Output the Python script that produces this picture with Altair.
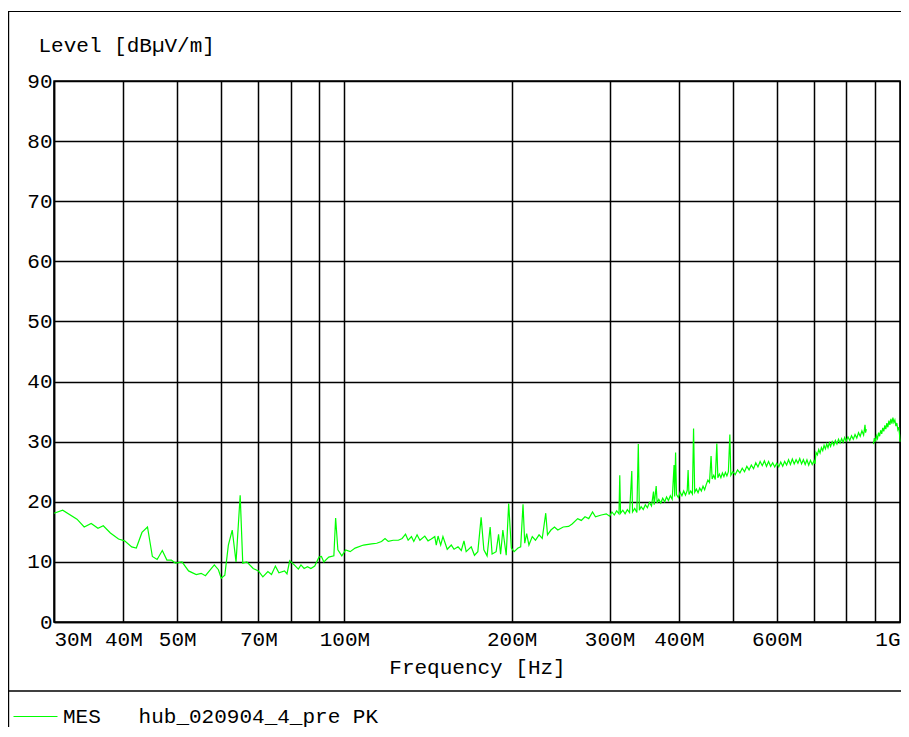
import altair as alt
import pandas as pd

FONT = "Liberation Mono"
FS = 21
SERIES = "MES\u00a0\u00a0\u00a0hub_020904_4_pre\u00a0PK"

# 30 MHz - 100 MHz
f1 = [30.0, 31.1, 33.0, 34.0, 35.0, 36.0, 36.8, 37.9, 39.2, 40.2,
      41.4, 42.2, 43.2, 44.2, 45.1, 46.0, 47.0, 47.9, 48.8, 49.6,
      51.0, 52.4, 54.1, 55.2, 56.2, 58.3, 59.3, 60.0, 60.9, 61.8,
      62.8, 63.8, 64.9, 65.6, 66.7, 68.5, 70.0, 71.3, 72.8, 73.9,
      75.1, 76.2, 78.0, 78.8, 79.7, 81.2, 82.6, 83.5, 84.6, 85.8,
      87.0, 88.4, 90.0, 90.9, 91.8, 93.7, 95.7, 96.4, 97.3, 98.9]
l1 = [18.1, 18.6, 17.1, 15.8, 16.4, 15.6, 16.0, 14.8, 13.8, 13.5,
      12.5, 12.3, 14.9, 15.8, 10.9, 10.4, 11.9, 10.3, 10.3, 9.8,
      10.0, 8.5, 7.9, 8.1, 7.7, 9.5, 8.7, 7.3, 7.8, 12.8,
      15.3, 10.0, 21.1, 9.8, 10.0, 8.9, 8.5, 7.5, 8.4, 7.9,
      9.3, 8.2, 8.5, 8.0, 10.2, 9.5, 8.8, 9.5, 8.9, 9.2,
      8.9, 9.3, 10.8, 10.9, 10.0, 10.8, 11.0, 17.3, 12.0, 11.0]

# 100 MHz - 300 MHz
f2 = [100.5, 102.4, 104.5, 108.2, 111.9, 114.3, 116.6, 118.3, 119.9, 122.4,
      125.0, 127.0, 128.8, 130.2, 132.0, 133.3, 135.1, 136.7, 139.5, 141.4,
      143.3, 145.4, 146.3, 147.4, 149.0, 150.4, 153.1, 155.7, 157.5, 160.1,
      162.3, 164.1, 165.6, 169.1, 171.4, 173.8, 176.2, 178.2, 180.6, 182.9,
      184.4, 187.5, 189.4, 191.0, 192.8, 195.5, 197.5, 199.7, 202.0, 205.3,
      207.6, 209.6, 211.1, 212.8, 214.8, 217.8, 220.7, 224.0, 227.0, 230.3,
      232.0, 235.3, 238.8, 242.1, 247.6, 253.2, 256.9, 262.9, 266.9, 271.0,
      275.2, 279.6, 283.0, 290.0, 296.0]
l2 = [12.0, 11.7, 12.3, 12.8, 13.0, 13.1, 13.4, 13.9, 13.4, 13.6,
      13.6, 13.9, 14.6, 13.6, 14.2, 13.4, 14.5, 13.6, 14.3, 13.5,
      13.8, 14.2, 12.8, 14.3, 12.8, 14.2, 12.1, 12.8, 12.1, 12.5,
      11.9, 13.5, 11.7, 12.5, 11.1, 11.7, 17.4, 12.0, 11.0, 15.8,
      11.3, 11.7, 14.6, 11.3, 15.3, 11.1, 19.7, 12.3, 11.7, 12.3,
      12.5, 19.6, 13.1, 14.7, 12.8, 14.2, 13.6, 14.5, 13.9, 18.1,
      14.5, 15.3, 15.8, 15.3, 15.8, 15.9, 16.3, 17.2, 16.9, 17.5,
      17.2, 18.3, 17.5, 17.8, 18.0]

# 300 MHz - 870 MHz
f3 = [300, 303, 306, 309, 312, 313, 314, 317, 320, 323,
      326, 329, 330, 333, 336, 338, 339.5, 342, 345, 348,
      351, 354, 357, 360, 361, 364, 365.5, 368, 371, 374,
      377, 380, 383, 386, 389, 392, 393, 394.5, 396, 399,
      402, 405, 408, 411, 414, 415.5, 417, 420, 423, 425,
      427, 430, 433, 436, 439, 442, 445, 448, 451, 454,
      457, 459, 462, 465, 468, 470, 473, 476, 479, 482,
      485, 488, 491, 494, 496, 500, 505, 510, 515, 520,
      525, 530, 535, 540, 545, 550, 555, 560, 565, 570,
      575, 580, 585, 590, 595, 600, 605, 610, 615, 620,
      625, 630, 635, 640, 645, 650, 655, 660, 665, 670,
      675, 680, 685, 690, 695, 700, 703, 706, 710, 714,
      718, 722, 726, 730, 734, 738, 742, 746, 750, 755,
      760, 765, 770, 775, 780, 785, 790, 795, 800, 806,
      812, 818, 824, 830, 836, 842, 848, 854, 860, 865,
      867, 870]
l3 = [17.6, 18.3, 17.8, 18.5, 18.0, 24.4, 18.1, 18.6, 18.0, 18.7,
      18.2, 25.1, 18.3, 18.9, 18.2, 29.6, 18.6, 19.2, 18.7, 19.5,
      19.0, 19.9, 19.3, 21.7, 19.5, 22.6, 19.8, 20.4, 19.8, 20.6,
      20.0, 20.8, 20.2, 21.0, 20.4, 26.1, 20.9, 28.2, 21.2, 20.7,
      21.6, 21.0, 21.8, 21.1, 21.9, 25.3, 21.2, 21.8, 21.3, 32.2,
      21.6, 22.1, 21.5, 22.3, 21.8, 22.6, 22.0, 22.9, 23.6, 23.2,
      27.6, 23.8, 24.4, 23.7, 29.7, 24.0, 24.6, 24.0, 24.8, 24.2,
      24.9, 24.3, 25.0, 31.2, 24.4, 25.0, 24.5, 25.3, 24.8, 25.6,
      25.0, 25.9, 25.3, 26.1, 25.5, 26.5, 25.8, 26.7, 26.0, 26.8,
      25.9, 26.7, 25.9, 26.5, 25.8, 26.4, 25.8, 26.6, 25.9, 26.7,
      26.1, 27.0, 26.2, 27.1, 26.3, 27.0, 26.4, 27.2, 26.3, 27.0,
      26.2, 27.0, 26.1, 26.9, 26.2, 26.8, 26.3, 28.2, 27.8, 28.7,
      28.1, 29.0, 28.5, 29.4, 28.8, 29.6, 29.0, 29.8, 29.2, 30.0,
      29.4, 30.2, 29.6, 30.4, 29.8, 30.5, 29.9, 30.7, 30.1, 30.8,
      30.2, 31.0, 30.4, 31.2, 30.6, 31.5, 30.9, 31.8, 31.1, 32.8,
      31.5, 32.1]

# 896 MHz - 1 GHz (separate sweep segment)
f4 = [896, 899, 903, 907, 911, 915, 919, 923, 927, 931,
      935, 939, 943, 947, 951, 955, 959, 963, 967, 971,
      975, 979, 983, 987, 991, 995, 998, 1000]
l4 = [29.6, 30.6, 30.0, 31.0, 30.5, 31.5, 30.9, 31.9, 31.3, 32.3,
      31.7, 32.7, 32.1, 33.1, 32.4, 33.5, 32.8, 33.8, 33.0, 34.0,
      33.2, 33.6, 32.6, 33.1, 32.0, 32.4, 31.2, 30.0]

X_TICKS = [30, 40, 50, 60, 70, 80, 90, 100, 200, 300, 400, 500, 600, 700, 800, 900, 1000]
X_LABELED = [30, 40, 50, 70, 100, 200, 300, 400, 600, 1000]
Y_TICKS = [0, 10, 20, 30, 40, 50, 60, 70, 80, 90]

rows = []
for seg, fs, ls in [(0, f1, l1), (0, f2, l2), (0, f3, l3), (1, f4, l4)]:
    assert len(fs) == len(ls)
    for f, l in zip(fs, ls):
        rows.append({"freq": f, "level": l, "seg": seg, "series": SERIES})
df = pd.DataFrame(rows)

label_expr = ("indexof([" + ",".join(str(v) for v in X_LABELED) + "], datum.value) >= 0 ? "
              "(datum.value >= 1000 ? '1G' : datum.value + 'M') : ''")

line = alt.Chart(df).mark_line(strokeWidth=1.2).encode(
    x=alt.X("freq:Q", scale=alt.Scale(type="log", domain=[30, 1000], nice=False),
            axis=alt.Axis(values=X_TICKS, labelExpr=label_expr, grid=True,
                          gridColor="black", gridWidth=1.5, gridOpacity=1,
                          ticks=False, domainColor="black", domainWidth=1.5,
                          labelFont=FONT, labelFontSize=FS, labelColor="black",
                          labelFlush=True, labelOverlap=False, labelBound=False,
                          labelPadding=6, title="Frequency [Hz]", titleFont=FONT,
                          titleFontSize=FS, titleFontWeight="normal",
                          titleColor="black", titlePadding=7)),
    y=alt.Y("level:Q", scale=alt.Scale(domain=[0, 90], nice=False, zero=False),
            axis=alt.Axis(values=Y_TICKS, grid=True, gridColor="black",
                          gridWidth=1.5, gridOpacity=1, ticks=False,
                          domainColor="black", domainWidth=1.5,
                          labelFont=FONT, labelFontSize=FS, labelColor="black",
                          labelPadding=2, labelBaseline="middle",
                          title="Level [dB\u00b5V/m]", titleFont=FONT,
                          titleFontSize=FS, titleFontWeight="normal",
                          titleColor="black", titleAngle=0, titleAlign="left",
                          titleBaseline="middle", titleX=-16, titleY=-36)),
    color=alt.Color("series:N", scale=alt.Scale(range=["#00ff00"]),
                    legend=alt.Legend(orient="none", legendX=-41, legendY=613,
                                      title=None, symbolType="stroke",
                                      symbolSize=1936, symbolStrokeWidth=1,
                                      labelFont=FONT, labelFontSize=FS,
                                      labelColor="black", labelOffset=5,
                                      padding=0, labelLimit=0)),
    detail="seg:N",
)

frame = alt.Chart(alt.Data(values=[{}])).mark_rect(
    fill="transparent", stroke="black", strokeWidth=1.2
).encode(x=alt.value(-45.4), x2=alt.value(880), y=alt.value(-69.5), y2=alt.value(700))

sep = alt.Chart(alt.Data(values=[{}])).mark_rule(
    color="black", strokeWidth=1.5
).encode(x=alt.value(-45.4), x2=alt.value(880), y=alt.value(610))

chart = alt.layer(frame, sep, line).properties(
    width=846, height=541,
    autosize=alt.AutoSizeParams(type="none"),
    padding={"left": 46, "top": 73, "right": 1, "bottom": 105},
).configure_view(stroke="black", strokeWidth=1.5)

chart.save("out.html", embed_options={"renderer": "svg", "actions": False})
